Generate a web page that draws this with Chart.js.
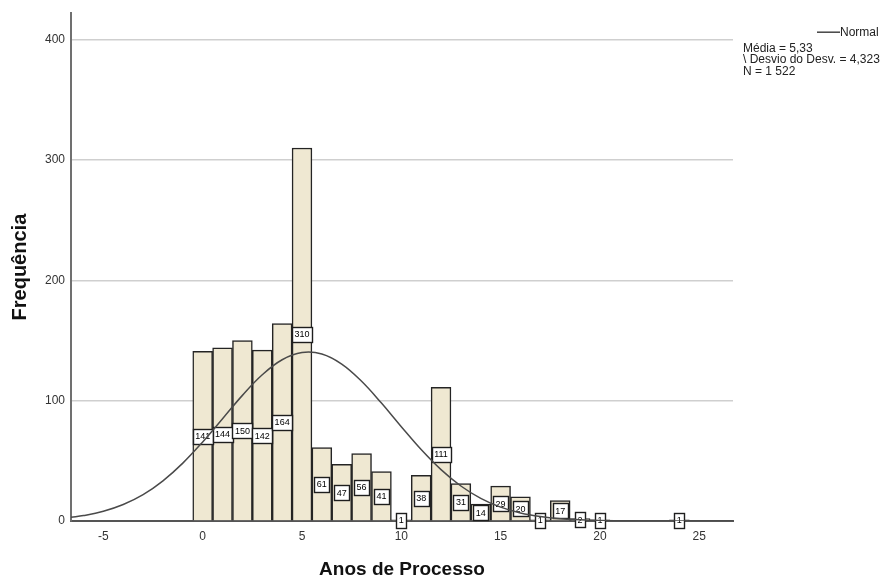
<!DOCTYPE html>
<html>
<head>
<meta charset="utf-8">
<script src="https://cdn.jsdelivr.net/npm/chart.js@4.4.1/dist/chart.umd.min.js"></script>
<style>
    body { margin: 0; background: #fff; }
</style>
</head>
<body>
<canvas id="histChart" width="890" height="581"></canvas>
<script>
// histogram: years of process (bin centre) and frequency
const binCenters = [0, 1, 2, 3, 4, 5, 6, 7, 8, 9, 10, 11, 12, 13, 14, 15, 16, 17, 18, 19, 20, 24];
const binCounts = [141, 144, 150, 142, 164, 310, 61, 47, 56, 41, 1, 38, 111, 31, 14, 29, 20, 1, 17, 2, 1, 1];

// normal curve
const curveX = [-6.63, -6, -5, -4, -3, -2, -1, 0, 1, 2, 3, 4, 5, 6, 7, 8, 9, 10, 11, 12, 13, 14, 15, 16, 17, 18, 19, 20, 21, 22, 23, 24, 25, 26, 26.7];
const curveY = [3.1, 4.5, 8.1, 13.7, 21.9, 33.4, 48.1, 65.7, 85.0, 104.4, 121.5, 134.0, 140.0, 138.8, 130.4, 116.1, 98.0, 78.4, 59.4, 42.7, 29.1, 18.8, 11.5, 6.7, 3.7, 1.9, 1.0, 0.4, 0.2, 0.1, 0, 0, 0, 0, 0];

const xTickValues = [-5, 0, 5, 10, 15, 20, 25];
const yTickValues = [0, 100, 200, 300, 400];

const legendLabel = 'Normal';
const statLines = ['Média = 5,33', '\\ Desvio do Desv. = 4,323', 'N = 1 522'];

const FONT = "'Liberation Sans', Arial, sans-serif";

// white boxes with the count, half way up each bar
const barLabelPlugin = {
    id: 'barLabels',
    afterDatasetDraw(chart, args) {
        if (args.index !== 1) return;
        const ctx = chart.ctx;
        const yScale = chart.scales.y;
        ctx.save();
        ctx.font = '9px ' + FONT;
        ctx.textAlign = 'center';
        ctx.textBaseline = 'middle';
        args.meta.data.forEach((bar, i) => {
            const txt = String(binCounts[i]);
            const w = Math.round(Math.max(ctx.measureText(txt).width + 5, 10));
            const h = 15;
            const cx = bar.x;
            const cy = yScale.getPixelForValue(binCounts[i] / 2);
            const left = Math.round(cx - w / 2) + 0.5;
            const top = Math.round(cy - h / 2) + 0.5;
            ctx.fillStyle = '#fff';
            ctx.fillRect(left, top, w, h);
            ctx.strokeStyle = '#1e1e1e';
            ctx.lineWidth = 1.4;
            ctx.strokeRect(left, top, w, h);
            ctx.fillStyle = '#000';
            ctx.fillText(txt, cx, cy + 0.5);
        });
        ctx.restore();
    }
};

// legend + statistics in the top right corner
const statsPlugin = {
    id: 'stats',
    afterDraw(chart) {
        const ctx = chart.ctx;
        const area = chart.chartArea;
        const x0 = area.right + 10;
        ctx.save();
        ctx.strokeStyle = '#444';
        ctx.lineWidth = 1.5;
        ctx.beginPath();
        ctx.moveTo(area.right + 84, area.top + 19);
        ctx.lineTo(area.right + 107, area.top + 19);
        ctx.stroke();
        ctx.font = '12px ' + FONT;
        ctx.fillStyle = '#222';
        ctx.textBaseline = 'middle';
        ctx.textAlign = 'left';
        ctx.fillText(legendLabel, area.right + 107, area.top + 19);
        statLines.forEach((line, i) => {
            ctx.fillText(line, x0, area.top + 35 + i * 11.5);
        });
        ctx.restore();
    }
};

const ctx = document.getElementById('histChart').getContext('2d');
const histChart = new Chart(ctx, {
    type: 'bar',
    data: {
        datasets: [{
            type: 'line',
            label: legendLabel,
            data: curveX.map((x, i) => ({ x: x, y: curveY[i] })),
            borderColor: '#4a4a4a',
            borderWidth: 1.5,
            pointRadius: 0,
            tension: 0.4,
            fill: false,
            order: 0
        }, {
            type: 'bar',
            label: 'Frequência',
            data: binCenters.map((x, i) => ({ x: x, y: binCounts[i] })),
            backgroundColor: '#EFE8D2',
            borderColor: '#242424',
            borderWidth: 1.5,
            barPercentage: 1,
            categoryPercentage: 1,
            order: 1
        }]
    },
    options: {
        responsive: false,
        animation: false,
        devicePixelRatio: 1,
        layout: { padding: { left: 0, right: 157, top: 12, bottom: 0 } },
        plugins: {
            legend: { display: false },
            tooltip: { enabled: false }
        },
        scales: {
            x: {
                type: 'linear',
                min: -6.63,
                max: 26.7,
                offset: false,
                afterBuildTicks: s => { s.ticks = xTickValues.map(v => ({ value: v })); },
                afterFit: s => { s.height = 60; },
                grid: { display: false, drawTicks: false },
                border: { display: true, color: '#555', width: 2 },
                ticks: {
                    color: '#333',
                    font: { size: 12, family: FONT },
                    padding: 8,
                    maxRotation: 0,
                    autoSkip: false
                },
                title: {
                    display: true,
                    text: 'Anos de Processo',
                    color: '#111',
                    font: { size: 19, weight: 'bold', family: FONT },
                    padding: { top: 0, bottom: 0 }
                }
            },
            y: {
                min: 0,
                max: 422,
                afterBuildTicks: s => { s.ticks = yTickValues.map(v => ({ value: v })); },
                afterFit: s => { s.width = 71; },
                grid: { color: '#cfcfcf', lineWidth: 1.5, drawTicks: false },
                border: { color: '#707070', width: 2 },
                ticks: {
                    color: '#333',
                    font: { size: 12, family: FONT },
                    padding: 6
                },
                title: {
                    display: true,
                    text: 'Frequência',
                    color: '#111',
                    font: { size: 20, weight: 'bold', family: FONT },
                    padding: { top: 8, bottom: 0 }
                }
            }
        }
    },
    plugins: [barLabelPlugin, statsPlugin]
});
</script>
</body>
</html>
